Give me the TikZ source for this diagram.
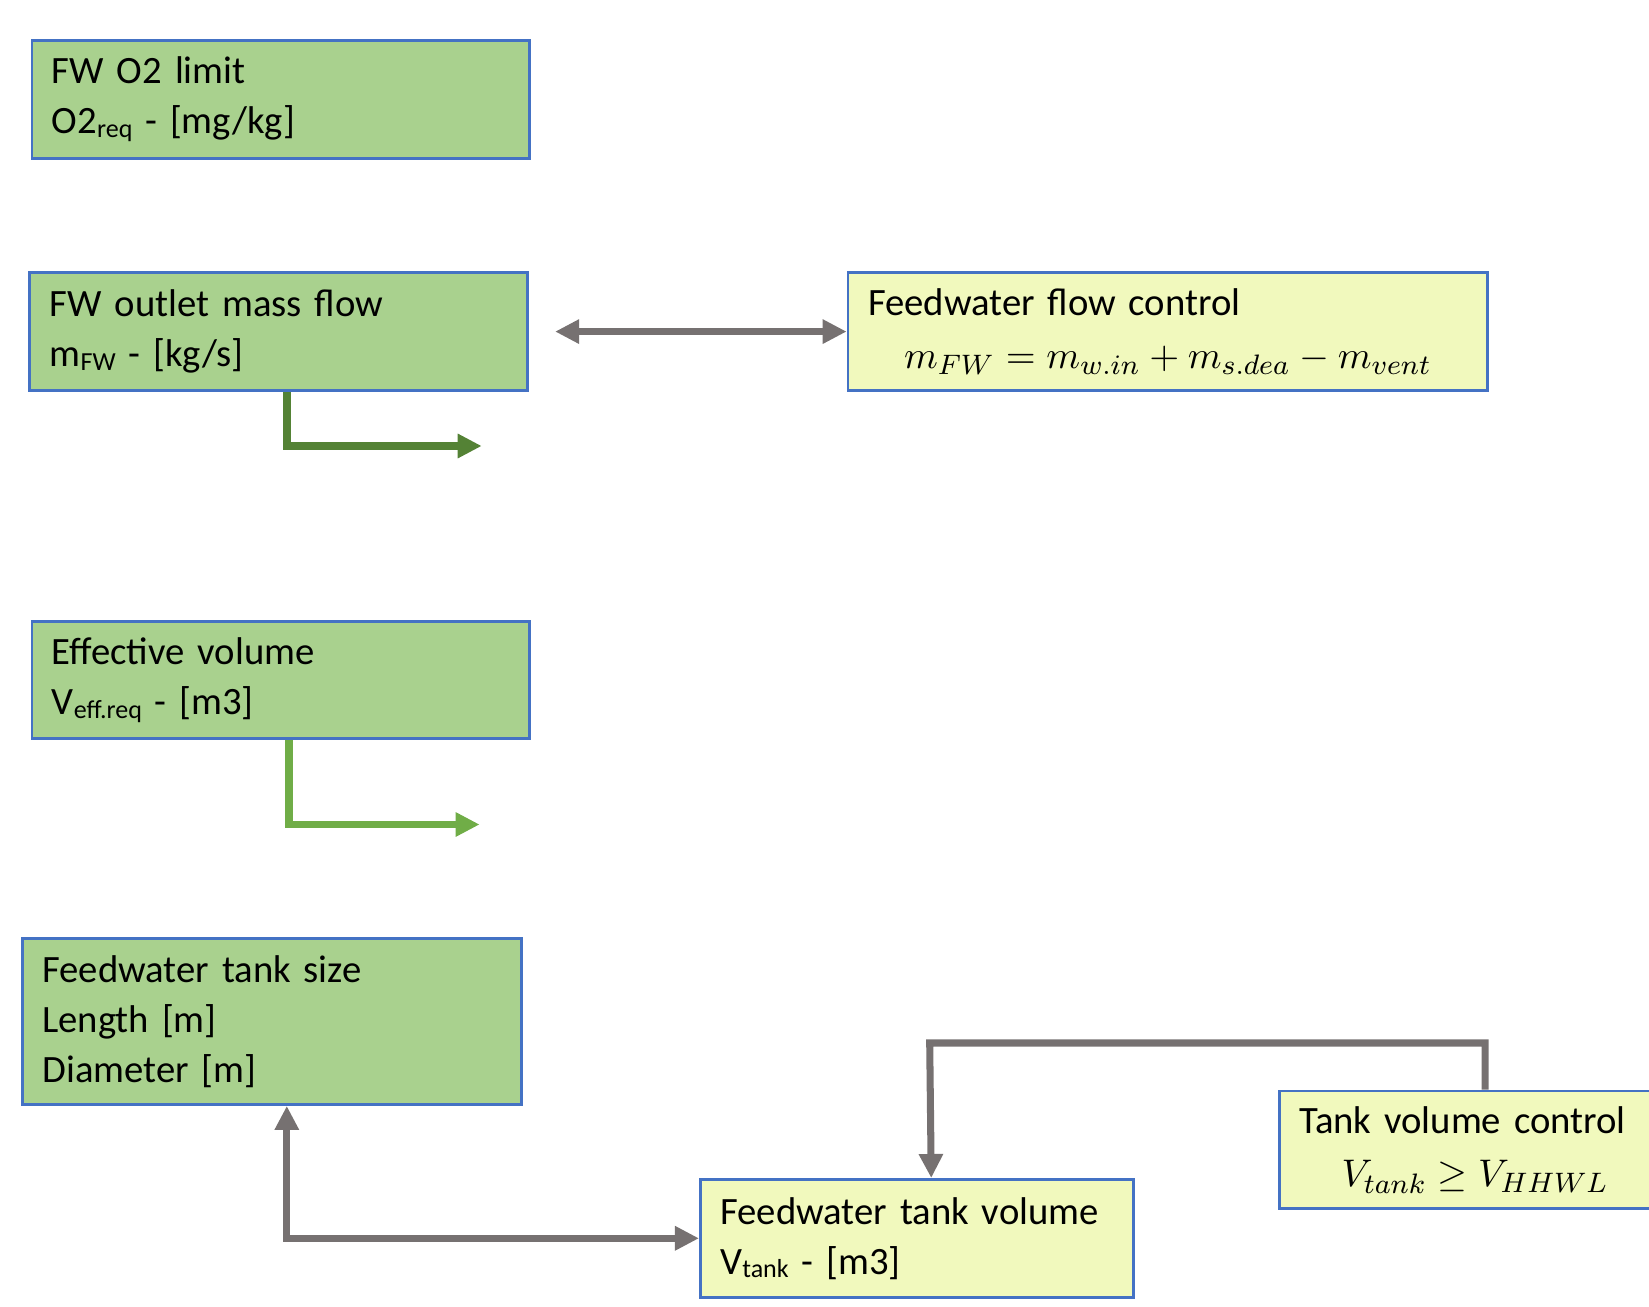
\documentclass[tikz,border=0pt]{standalone}
\usepackage{fontspec}
\setmainfont{Carlito}
\usetikzlibrary{arrows.meta,positioning,calc}
\definecolor{boxgreen}{HTML}{A9D18E}
\definecolor{boxyellow}{HTML}{F1F9BD}
\definecolor{boxblue}{HTML}{4472C4}
\definecolor{linkgrey}{HTML}{767171}
\definecolor{flowdark}{HTML}{548235}
\definecolor{flowlight}{HTML}{70AD47}
\newcommand{\lowsub}[1]{\raisebox{-0.2ex}{\fontsize{7.4}{8}\selectfont #1}}
\tikzset{
  basebox/.style = {draw=boxblue, line width=0.8pt, anchor=north west, align=left,
    inner xsep=0.2cm, font=\fontsize{11}{14.2}\selectfont},
  inputbox/.style = {basebox, fill=boxgreen},
  controlbox/.style = {basebox, fill=boxyellow},
  linktip/.tip = {Triangle[length=0.24cm, width=0.23cm]},
  linkline/.style = {line width=2pt, linkgrey},
  flowline/.style = {line width=2.2pt, -linktip},
}

\begin{document}
\begin{tikzpicture}[x=0.01cm, y=-0.01cm]
  \useasboundingbox (0,0) rectangle (1649,1307);
  % Input boxes
  \node[inputbox, text width=4.575cm, minimum height=1.177cm] (o2lim) at (30.5,39)
    {FW O2 limit\\ O2\lowsub{req} - [mg/kg]};
  \node[inputbox, text width=4.576cm, minimum height=1.177cm] (mflow) at (28.4,271.3)
    {FW outlet mass flow\\ m\lowsub{FW} - [kg/s]};
  \node[inputbox, text width=4.575cm, minimum height=1.165cm] (veff) at (30.5,620.5)
    {Effective volume\\ V\lowsub{eff.req} - [m3]};
  \node[inputbox, text width=4.585cm, minimum height=1.66cm] (tanksize) at (21,937)
    {Feedwater tank size\\ Length [m]\\ Diameter [m]};
  % Control boxes
  \node[controlbox, text width=5.994cm, minimum height=1.177cm] (flowctrl) at (846.6,271.3)
    {Feedwater flow control\\[1pt] \makebox[\linewidth]{$m_{FW}=m_{w.in}+m_{s.dea}-m_{vent}$}};
  \node[controlbox, text width=3.926cm, minimum height=1.177cm] (tankvol) at (699,1178)
    {Feedwater~tank~volume\\ V\lowsub{tank} - [m3]};
  \node[controlbox, text width=3.514cm, minimum height=1.174cm] (volctrl) at (1277.8,1089.6)
    {Tank volume control\\[1pt] \makebox[\linewidth]{$V_{tank}\geq V_{HHWL}$}};

  % Connectors
  \coordinate (mflowout) at (481.7,446);
  \coordinate (veffout) at (479.6,824.5);
  \coordinate (loop) at (929.7,1043);
  \draw[linkline, linktip-linktip, shorten <=0.26cm] (mflow.east) -- (flowctrl.west);
  \draw[flowline, flowdark] ([xshift=0.08cm]mflow.south) |- (mflowout);
  \draw[flowline, flowlight] ([xshift=0.08cm]veff.south) |- (veffout);
  \draw[linkline, linktip-linktip] ([xshift=0.15cm]tanksize.south) |- (tankvol.west);
  \draw[linkline, -linktip] ([xshift=0.1cm]volctrl.north) |- (loop) -- ([xshift=0.144cm]tankvol.north);
\end{tikzpicture}
\end{document}
